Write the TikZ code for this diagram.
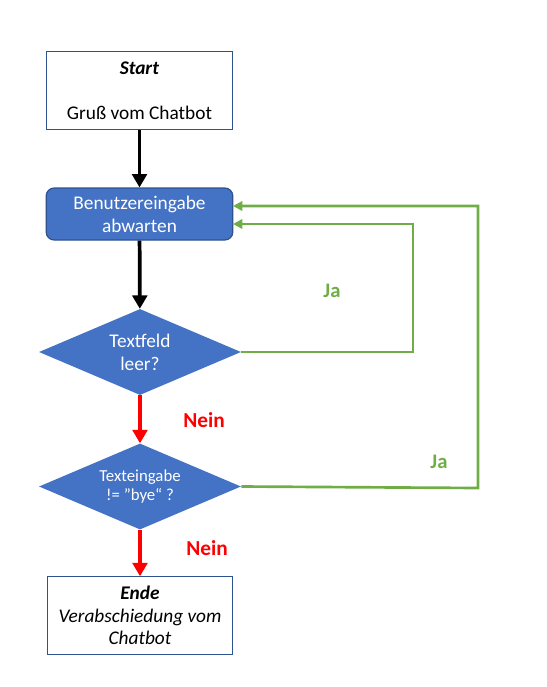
\documentclass[tikz,border=0pt]{standalone}
\usepackage{fontspec}
\setmainfont{Carlito}
\usetikzlibrary{positioning,arrows.meta,shapes.geometric}
\definecolor{colorbox}      {RGB}{68 ,114,196}
\definecolor{colorborder}   {RGB}{47 ,82 ,143}
\definecolor{colorja}       {RGB}{112,173,71 }
\definecolor{colornein}     {RGB}{255,0  ,0  }

\begin{document}
\begin{tikzpicture}[
    x=0.75pt, y=-0.75pt,
    font={\fontsize{14.5}{17.2}\selectfont},
    plain/.style={draw=colorborder,line width=0.9pt,fill=white,minimum width=139pt,minimum height=58pt,align=center,inner sep=0pt},
    input/.style={draw=colorborder,line width=0.9pt,fill=colorbox,rounded corners=6pt,text=white,minimum width=140pt,minimum height=39pt,align=center,inner sep=0pt},
    test/.style={diamond,fill=colorbox,text=white,minimum width=151.5pt,minimum height=64.5pt,aspect=2.35,align=center,inner sep=0pt},
    flow/.style={line width=2.8pt,-{Triangle[width=11pt,length=10pt]}},
    back/.style={draw=colorja,line width=2pt,-{Triangle[width=7pt,length=7pt]}},
    ja/.style={text=colorja,font={\fontsize{15.5}{17}\selectfont\bfseries}},
    nein/.style={text=colornein,font={\fontsize{16}{17}\selectfont\bfseries}},
]
    \useasboundingbox (0,0) rectangle (547,687);

    \node[plain] (start) at (139.5,90.5) {\textbf{\textit{Start}}\\[16.5pt]Gruß vom Chatbot};
    \node[input] (wait) at (139.5,214) {Benutzereingabe\\abwarten};
    \node[test] (empty) at (140,352) {Textfeld\\leer?};
    \node[test,font={\fontsize{12.6}{14.2}\selectfont}] (bye) at (140,486.5) {Texteingabe\\!= \char"22 bye“ ?};
    \node[plain,font={\fontsize{14.5}{16.9}\selectfont\itshape}] (stop) at (140,615.5) {\textbf{Ende}\\Verabschiedung vom\\Chatbot};

    \coordinate (in1) at (233,224);
    \coordinate (in2) at (233,206);

    \draw[flow] (start) -- (wait);
    \draw[flow] (wait) -- (empty);
    \draw[flow,colornein] (empty) -- (bye);
    \draw[flow,colornein] (bye) -- (stop);

    \draw[back] (empty.east) -- (413,352) -- (413,224) -- (in1);
    \draw[back] (bye.east) -- (478,488) -- (478,206) -- (in2);

    \node[ja] (ja1) at (332,291) {Ja};
    \node[ja] (ja2) at (439,462) {Ja};
    \node[nein] (nein1) at (204,420) {Nein};
    \node[nein] (nein2) at (207,548) {Nein};

\end{tikzpicture}
\end{document}
